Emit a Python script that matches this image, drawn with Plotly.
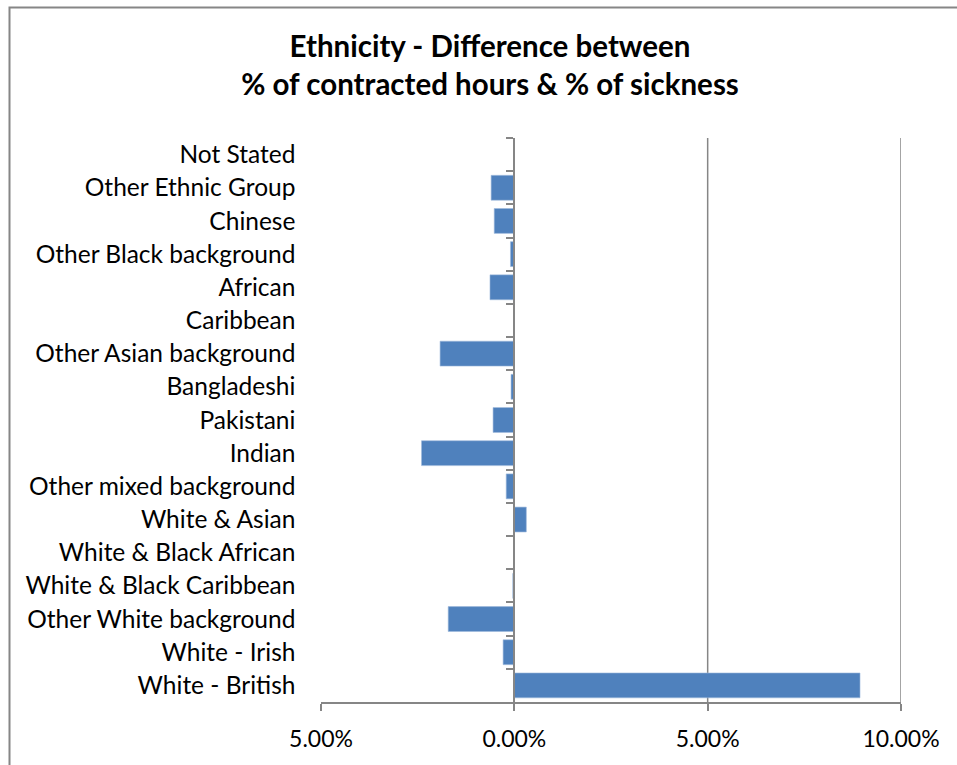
import plotly.graph_objects as go

categories = [
    "Not Stated", "Other Ethnic Group", "Chinese", "Other Black background",
    "African", "Caribbean", "Other Asian background", "Bangladeshi",
    "Pakistani", "Indian", "Other mixed background", "White & Asian",
    "White & Black African", "White & Black Caribbean",
    "Other White background", "White - Irish", "White - British",
]
values = [
    0.0, -0.60, -0.52, -0.10,
    -0.63, 0.0, -1.92, -0.085,
    -0.55, -2.40, -0.21, 0.31,
    0.0, -0.04,
    -1.71, -0.29, 8.94,
]
tick_vals = [-5, 0, 5, 10]
tick_text = ["5.00%", "0.00%", "5.00%", "10.00%"]
grid_vals = [5, 10]

W, H = 957, 765
ML, MR, MT, MB = 321, 56, 138, 63
PW, PH = W - ML - MR, H - MT - MB
GRAY = "#868686"
FONT = "Lato"

x_min, x_max = tick_vals[0], tick_vals[-1]
zero_pos = (0 - x_min) / (x_max - x_min)

fig = go.Figure()
fig.add_trace(go.Bar(
    y=categories, x=values, orientation="h",
    marker=dict(color="#4F81BD", line=dict(color="#9DB8DC", width=0.6)),
    hoverinfo="x+y", showlegend=False,
))

for g in grid_vals:
    fig.add_shape(type="line", xref="x", yref="paper", x0=g, x1=g, y0=0, y1=1,
                  line=dict(color=GRAY, width=1.5), layer="below")

# outer chart border
fig.add_shape(type="rect", xref="paper", yref="paper",
              x0=(9.5 - ML) / PW, x1=(W + 20 - ML) / PW,
              y0=(H - MB - (H + 20)) / PH, y1=(H - MB - 7.5) / PH,
              line=dict(color=GRAY, width=2), fillcolor="rgba(0,0,0,0)", layer="below")

fig.update_layout(
    width=W, height=H,
    margin=dict(l=ML, r=MR, t=MT, b=MB),
    paper_bgcolor="white", plot_bgcolor="white",
    bargap=0.25,
    font=dict(family=FONT, color="black", size=24),
    title=dict(
        text="<b>Ethnicity - Difference between<br>% of contracted hours & % of sickness</b>",
        x=490 / W, xanchor="center", xref="container",
        y=1 - 57 / H, yanchor="top", yref="container",
        font=dict(family=FONT, size=29.5, color="black"),
    ),
    xaxis=dict(
        range=[x_min, x_max], tickvals=tick_vals, ticktext=tick_text,
        showgrid=False, zeroline=False, showline=True, linecolor=GRAY, linewidth=2,
        ticks="outside", ticklen=7, tickwidth=2, tickcolor=GRAY,
        ticklabelstandoff=8, automargin=False,
        tickfont=dict(size=23),
    ),
    yaxis=dict(
        autorange="reversed", anchor="free", position=zero_pos,
        showgrid=False, zeroline=False, showline=True, linecolor=GRAY, linewidth=2,
        ticks="outside", ticklen=7, tickwidth=2, tickcolor=GRAY, tickson="boundaries",
        ticklabelstandoff=213, automargin=False,
        tickfont=dict(size=24.5),
    ),
)

fig.write_html("out.html")
